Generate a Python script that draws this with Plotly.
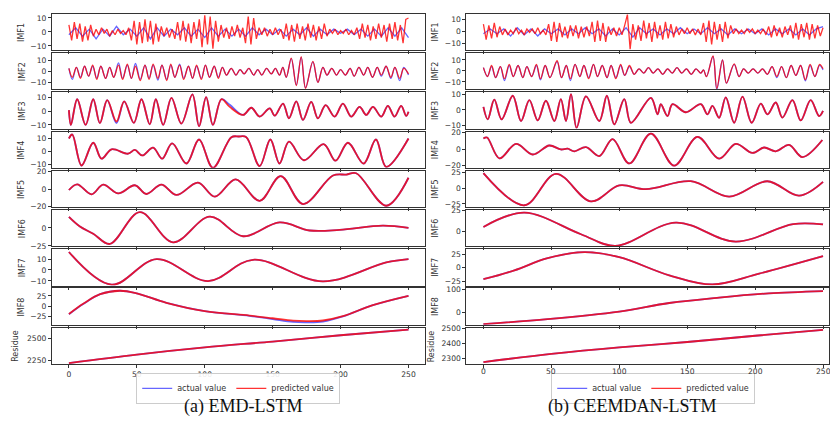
import plotly.graph_objects as go

W, H = 830, 421

# ---------------- sample index grids ----------------
t_step2 = list(range(0, 251, 2))
t_step5 = list(range(0, 251, 5))
x_ticks = [0, 50, 100, 150, 200, 250]

# ================= (a) EMD-LSTM =================
emd_imf1_pred = [5, -6, 7, -5, 6, -7, 4, -6, 5, -3,
                 2, -2, 3, -1, 2, -3, 1, -2, 2, -1,
                 1, -2, 3, -6, 8, -9, 7, -8, 9, -7,
                 8, -9, 6, -7, 4, -3, 3, -4, 2, -5,
                 7, -6, 8, -7, 6, -8, 7, -5, 9, -11,
                 12, -9, 11, -12, 8, -7, 5, -4, 3, -5,
                 4, -3, 5, -4, 3, -8, 11, -9, 10, -5,
                 3, -2, 3, -3, 2, -2, 3, -2, 2, -5,
                 6, -6, 5, -7, 6, -5, 4, -6, 6, -4,
                 5, -6, 4, -5, 6, -3, 2, -1, 2, -2,
                 1, -1, 2, -2, 1, -2, 3, -5, 6, -4,
                 5, -6, 4, -5, 6, -4, 5, -7, 6, -5,
                 7, -6, 5, -8, 9, 10]
emd_imf1_act = [-2, 3, -3, 2, -5, 2, -3, 4, -2, 2,
                -3, 3, -5, 3, -3, 2, -2, 3, -3, 2,
                -4, 3, -3, 2, -3, 2, -3, 3, -2, 2,
                -2, 2, -3, 2, -2, 3, -3, 2, -2, 2,
                -1, 2, -2, 2, -3, 2, -3, 3, -3, 3, -4]

emd_imf2_x = [0, 2.5, 5.5, 8.5, 11.5, 14.5, 17.5, 20.5, 23.5, 27,
              30, 33, 36.5, 39.5, 43, 46, 49, 52.5, 56, 59,
              62, 65.5, 68.5, 72, 75, 78, 81.5, 84.5, 88, 91,
              94, 97.5, 100.5, 103.5, 107, 110, 113, 116, 119.5, 123,
              126, 129, 132.5, 136, 139, 142, 145.5, 149, 152, 155,
              157.5, 160, 163.7, 167.4, 171, 174.2, 179.6, 183.3, 187, 190,
              193.5, 197, 200, 203.5, 207, 210, 213.5, 217, 220, 223.5,
              227, 230, 233.5, 237, 240, 243.5, 246.5, 250]
emd_imf2_pred = [3, -5, 4, -6, 5, -4, 6, -7, 5, -6,
                 4, -5, 6, -7, 7, -6, 5, -8, 6, -7,
                 7, -6, 6, -8, 7, -5, 6, -7, 5, -6,
                 6, -7, 6, -5, 5, -6, 4, -3, 3, -3,
                 2, -2, 3, -3, 2, -3, 3, -2, 3, -3,
                 4, -5, 12.4, -12.6, 13.8, -15, 9.4, -9.7, 4, -3,
                 3, -3, 2, -3, 3, -4, 4, -3, 4, -5,
                 4, -3, 5, -5, 4, -6, 3, -2]
emd_imf2_act = [3, -7, 4, -5, 5, -4, 5, -6, 5, -6,
                4, -5, 8, -6, 6, -6, 7.5, -7, 6, -6,
                6, -7.5, 6, -7, 6, -5, 7, -6, 5, -6,
                5, -6, 6, -5, 5, -5, 4, -3, 3, -3,
                2, -2, 3, -3, 2, -3, 3, -2, 3, -3,
                4, -5, 12, -12, 13, -14.5, 9, -9.5, 4, -3,
                3, -3, 2, -3, 3, -4, 4, -3, 4, -5,
                4, -4, 5, -6, 4, -8, 4, -3]

emd_imf3_x = [0, 1.5, 6.1, 12.3, 17.9, 22.8, 28.2, 35, 40.7, 47.8,
              53.4, 59.5, 64, 69.4, 75.5, 82.8, 90.9, 95.8, 101, 106,
              112.3, 118.4, 128.2, 134.3, 140.4, 147.8, 151.5, 157.6, 162, 167.4,
              172.3, 178.4, 183.3, 189, 195.6, 201.7, 207.8, 214, 218.9, 223.8,
              230, 234.8, 239.7, 244.6, 248.3, 250]
emd_imf3_pred = [0.7, -10, 8.5, -10, 8.5, -8.7, 7.8, -7.5, 7, -8.5,
                 8.5, -9.5, 8.5, -10, 9.5, -9, 12, -11, 10, -10,
                 8.5, 3, -2.8, 2.4, -4, 1.9, -3.3, 5.4, -5.2, 7,
                 -6.4, 6.6, -5.2, 4.2, -4, 5.4, -4, 3, -2.8, 3,
                 -4, 3.8, -4, 3.8, -3.5, -0.5]
emd_imf3_act = [0.7, -10, 8.5, -10, 8.5, -8.7, 7.8, -8.7, 7, -8.5,
                8.5, -9.5, 8.5, -10, 9.5, -9, 12, -11, 10, -10,
                8.5, 4.5, -2.8, 2.4, -4, 1.9, -3.3, 5.4, -5.2, 7,
                -6.4, 6.6, -5.2, 4.2, -4, 5.4, -4, 3, -2.8, 3,
                -4, 3.8, -4, 3.8, -3.5, -0.5]

emd_imf4_x = [0, 2.5, 9.3, 17.9, 24, 31.4, 43.6, 48.5, 54, 62,
              68.6, 76, 86.5, 95.8, 106, 119.6, 125, 130.6, 140.4, 148.3,
              155, 162, 173, 187.5, 196.3, 205.4, 217, 226, 233.6, 250]
emd_imf4_y = [10, 13, -10.7, 6.7, -5.5, 1.7, -1.7, 1.2, -3, 3,
              -5.5, 6.2, -9.2, 9.2, -12.5, 11, 11.5, 11, -11.2, 9.2,
              -9.2, 7.5, -6.7, 5.7, -7, 6.7, -9.2, 9.2, -11.7, 10]

emd_imf5_x = [0, 6.1, 16.7, 25.2, 36.3, 48.5, 57, 68.1, 79.2, 95,
              107.4, 122.8, 140.4, 155.9, 172.3, 194.4, 204.2, 211.5, 233.6, 250]
emd_imf5_y = [-1, 5.5, -5.9, 5.1, -4.8, 4.4, -5.5, 5.1, -6.6, 7.4,
              -8.5, 11, -13.2, 14.7, -16.9, 15.4, 16.5, 18, -18.8, 12.9]

emd_imf6_x = [0, 8.1, 17.9, 30.1, 52.2, 76.7, 103.7, 128.2, 155.1, 177.2, 199.3, 231.1, 250]
emd_imf6_y = [15.2, 1.8, -8, -22.3, 21.9, -20, 15.6, -11.6, 7.6, -3.6, -2.7, 3.1, 0]

emd_imf7_x = [0, 31.4, 64.5, 102.5, 135.5, 187, 233.6, 250]
emd_imf7_y = [16.4, -13.4, 9.9, -10.1, 9.3, -10.4, 6.9, 9.9]

emd_imf8_x = [0, 10.5, 23, 37.5, 50, 71.8, 100, 133, 150, 165, 176, 187, 201.7, 223.8, 250]
emd_imf8_pred = [-19.5, 5.5, 29, 37.5, 31, 7.8, -12.5, -23.4, -30, -36, -37, -35.5, -25, 2.3, 25]
emd_imf8_act = [-20, 5, 29, 37.5, 31, 7.8, -12.5, -24, -32, -39, -40, -38, -25.5, 2, 25]

emd_res_x = [0, 50, 100, 150, 200, 250]
emd_res_y = [2220, 2316, 2397, 2462, 2533, 2596]

# ================= (b) CEEMDAN-LSTM =================
ceem_imf1_pred = [6, -7, 5, -6, 7, -5, 4, -3, 2, -3,
                  1, -2, 3, -2, 1, -3, 2, -1, 2, -2,
                  3, -2, 1, -3, 6, -8, 8, -9, 7, -5,
                  4, -6, 5, -4, 5, -6, 4, -5, 4, -4,
                  8, -9, 9, -8, 7, -9, 4, -3, 3, -4,
                  3, -3, 5, 14, -15, 6, -7, 5, -8, 9,
                  -6, 7, -9, 8, -6, 5, -7, 8, -6, 6,
                  -5, 4, -3, 2, -2, 3, -2, 2, -3, 2,
                  -3, 7, -9, 9, -11, 8, -7, 6, -9, 8,
                  -6, 5, -2, 2, -2, 1, -2, 2, -1, 2,
                  -2, 1, -2, 2, -3, 4, -5, 5, -4, 3,
                  -5, 4, -3, 5, -6, 7, -7, 6, -5, 7,
                  -7, 6, -6, 5, -4, 3]
ceem_imf1_act = [-2, 2, -2, 2, -4, 3, -3, 2, -4, 2,
                 -2, 2, -3, 2, -2, 3, -2, 2, -4, 2,
                 -3, 3, -5, 3, -2, 2, -3, 2, -2, 3,
                 -2, 2, -2, 3, -2, 2, -3, 2, -2, 2,
                 -2, 2, -3, 2, -2, 2, -3, 2, -3, 2, 4]

ceem_imf2_x = [0, 3, 6, 9, 12.5, 15.5, 19, 22, 25.5, 29,
               32, 35.5, 39, 42, 45.5, 49, 54.2, 57.5, 61, 64,
               67.5, 71, 74, 77.5, 81, 84, 87.5, 91, 94, 97.5,
               101, 104, 107.5, 111, 114.5, 118, 121.5, 125, 128.5, 132,
               135.5, 139, 142.5, 146, 149.5, 153, 156.5, 160, 162, 164.2,
               169, 171.8, 176, 178.9, 184.6, 188.2, 191.5, 195, 198.5, 202,
               205.5, 209, 212.5, 216, 219.5, 223, 226.5, 230, 233.5, 237,
               240.5, 244, 247.5, 250]
ceem_imf2_pred = [3, -5, 5, -6, 4, -7, 6, -5, 5, -6,
                  4, -5, 6, -7, 5, -6, 9.3, -6, 5, -7,
                  6, -5, 5, -7, 6, -5, 5, -6, 5, -7,
                  6, -4, 5, -3, 2, -2, 3, -2, 2, -3,
                  2, -2, 3, -2, 2, -3, 2, -2, 1, -5.2,
                  13.6, -16, 10.1, -11, 6.4, -5.2, 2, -2, 2, -2,
                  2, -3, 4, -5, 4, -6, 5, -4, 5, -8,
                  6, -5, 6, 2]
ceem_imf2_act = [3, -5, 4, -6, 4, -8.7, 5, -5, 5, -6,
                 4, -5, 5, -8, 5, -6, 8.5, -6, 5, -8.7,
                 6, -5, 5, -6, 6, -5, 5, -6, 5, -6,
                 5, -4, 4, -3, 2, -2, 3, -2, 2, -3,
                 2, -2, 3, -2, 2, -3, 2, -2, 1, -5,
                 13, -17, 10, -11, 6, -5, 2, -2, 2, -2,
                 2, -3, 4, -6, 4, -6, 5, -4, 5, -9,
                 5, -5, 5, 1]

ceem_imf3_x = [0, 3.2, 8, 13.4, 21.6, 27.7, 33.8, 40, 46, 52.2,
               57, 60.8, 64.5, 68.6, 75.5, 85.3, 90.9, 96.3, 103.7, 108.6,
               123.3, 128.2, 130.6, 135.5, 139.2, 149, 160, 164.9, 168.6, 173.5,
               178.4, 184.6, 190.7, 197.5, 204.2, 209.1, 215.2, 220.1, 227.5, 233.6,
               240.9, 247.1, 250]
ceem_imf3_y = [1.9, -6, 6.5, -6, 9, -7.1, 6.2, -6.7, 5.8, -7.1,
               6.9, -7.1, 10, -11.4, 8.6, -7.1, 9, -9.2, 6.9, -8.2,
               7.7, -2.8, 3.6, -3.9, 3.6, -1.5, 3.6, -2.8, 2.6, -5,
               8, -8.2, 8.4, -8.2, 4, -2.8, 4.7, -4.9, 6.2, -6.7,
               6.2, -3.9, -0.6]

ceem_imf4_x = [0, 2.7, 11.8, 24, 36.3, 48.5, 57, 62, 66.9, 75.5,
               85.3, 95.1, 107.4, 123.3, 140.4, 157.6, 173.5, 185.8, 198, 206.6,
               215.2, 225, 234.8, 249.5]
ceem_imf4_y = [12.8, 14, -11.2, 6.2, -6.6, 4.3, -0.5, 0.5, -2.7, 2.3,
               -8.5, 12, -17.4, 18.6, -20, 14.7, -11.6, 6.2, -4.7, 1.9,
               -2.7, 5, -9.7, 10.9]

ceem_imf5_x = [0, 30.1, 53.4, 79.2, 100, 119.6, 152.7, 180.9, 209, 232.4, 250]
ceem_imf5_y = [24.2, -27.3, 23.2, -21.1, 4.5, -1.5, 11.3, -13.4, 11.3, -11.9, 10.3]

ceem_imf6_x = [0, 30.1, 71.8, 97, 141.7, 185.8, 228, 250]
ceem_imf6_y = [5.5, 22.3, -3.1, -16.8, 10.5, -11.7, 8.8, 8.4]

ceem_imf7_x = [0, 22.8, 47.3, 74.3, 100, 136.8, 168.6, 203, 250]
ceem_imf7_y = [-21.3, -4.9, 17.7, 28.7, 19.5, -14, -31, -11, 21.3]

ceem_imf8_x = [0, 47.3, 100, 136.8, 173.5, 210, 250]
ceem_imf8_y = [-49, -28, 5, 41.7, 65, 83, 93]

ceem_res_x = [0, 50, 100, 150, 200, 250]
ceem_res_y = [2275, 2330, 2374, 2410, 2452, 2491]

row_labels = ["IMF1", "IMF2", "IMF3", "IMF4", "IMF5", "IMF6", "IMF7", "IMF8", "Residue"]

# (x_act, y_act, x_pred, y_pred, line shape)
emd_rows = [
    (t_step5, emd_imf1_act, t_step2, emd_imf1_pred, "linear"),
    (emd_imf2_x, emd_imf2_act, emd_imf2_x, emd_imf2_pred, "spline"),
    (emd_imf3_x, emd_imf3_act, emd_imf3_x, emd_imf3_pred, "spline"),
    (emd_imf4_x, emd_imf4_y, emd_imf4_x, emd_imf4_y, "spline"),
    (emd_imf5_x, emd_imf5_y, emd_imf5_x, emd_imf5_y, "spline"),
    (emd_imf6_x, emd_imf6_y, emd_imf6_x, emd_imf6_y, "spline"),
    (emd_imf7_x, emd_imf7_y, emd_imf7_x, emd_imf7_y, "spline"),
    (emd_imf8_x, emd_imf8_act, emd_imf8_x, emd_imf8_pred, "spline"),
    (emd_res_x, emd_res_y, emd_res_x, emd_res_y, "spline"),
]
ceem_rows = [
    (t_step5, ceem_imf1_act, t_step2, ceem_imf1_pred, "linear"),
    (ceem_imf2_x, ceem_imf2_act, ceem_imf2_x, ceem_imf2_pred, "spline"),
    (ceem_imf3_x, ceem_imf3_y, ceem_imf3_x, ceem_imf3_y, "spline"),
    (ceem_imf4_x, ceem_imf4_y, ceem_imf4_x, ceem_imf4_y, "spline"),
    (ceem_imf5_x, ceem_imf5_y, ceem_imf5_x, ceem_imf5_y, "spline"),
    (ceem_imf6_x, ceem_imf6_y, ceem_imf6_x, ceem_imf6_y, "spline"),
    (ceem_imf7_x, ceem_imf7_y, ceem_imf7_x, ceem_imf7_y, "spline"),
    (ceem_imf8_x, ceem_imf8_y, ceem_imf8_x, ceem_imf8_y, "spline"),
    (ceem_res_x, ceem_res_y, ceem_res_x, ceem_res_y, "spline"),
]

# y-axis ranges and ticks
emd_yranges = [[-13, 13], [-16, 17], [-12.6, 13.5], [-12.5, 15.3], [-20.3, 20.8],
               [-25.6, 24.9], [-14.2, 18.9], [-46, 43], [2209, 2618]]
emd_yticks = [[-10, 0, 10], [-10, 0, 10], [-10, 0, 10], [-10, 0, 10], [-20, 0, 20],
              [-25, 0], [-10, 0, 10], [-25, 0, 25], [2250, 2500]]
ceem_yranges = [[-15.8, 14.7], [-16.7, 16.3], [-11.9, 11.2], [-22.7, 21.2], [-30.2, 28.1],
                [-17.3, 25.4], [-33, 34.2], [-52, 104], [2262, 2506]]
ceem_yticks = [[-10, 0, 10], [-10, 0, 10], [-10, 0, 10], [-20, 0, 20], [-25, 0, 25],
               [0, 25], [-25, 0, 25], [0, 100], [2300, 2400, 2500]]

BLUE = "rgba(0,0,255,0.6)"
RED = "rgba(255,0,0,0.8)"
FRAME = "#333333"
TICKFONT = dict(family="DejaVu Sans", size=7.6, color="#333333")

fig = go.Figure()
layout = dict(width=W, height=H, margin=dict(l=0, r=0, t=0, b=0),
              paper_bgcolor="white", plot_bgcolor="white", showlegend=True)

panels = [
    dict(rows=emd_rows, yr=emd_yranges, yt=emd_yticks, xdom=[52 / W, 426 / W],
         xr=[-12.5, 262.5], legend="legend", title_x=[22, 16]),
    dict(rows=ceem_rows, yr=ceem_yranges, yt=ceem_yticks, xdom=[467 / W, 1.0],
         xr=[-12.5, 254.4], legend="legend2", title_x=[436, 432]),
]

annotations = []
n = 0
for pi, p in enumerate(panels):
    for i, (xa, ya, xp, yp, shape) in enumerate(p["rows"]):
        n += 1
        xn = "x" if n == 1 else f"x{n}"
        yn = "y" if n == 1 else f"y{n}"
        top = 10 + 40 * i
        bot = 47 + 40 * i
        lw = 1.3 if i < 2 else 1.8
        fig.add_trace(go.Scatter(x=xa, y=ya, mode="lines", name="actual value",
                                 line=dict(color=BLUE, width=lw, shape=shape),
                                 xaxis=xn, yaxis=yn, legend=p["legend"],
                                 showlegend=(i == 0), hoverinfo="skip"))
        fig.add_trace(go.Scatter(x=xp, y=yp, mode="lines", name="predicted value",
                                 line=dict(color=RED, width=lw, shape=shape),
                                 xaxis=xn, yaxis=yn, legend=p["legend"],
                                 showlegend=(i == 0), hoverinfo="skip"))
        xkey = "xaxis" if n == 1 else f"xaxis{n}"
        ykey = "yaxis" if n == 1 else f"yaxis{n}"
        show_x_labels = (i == 8) and (pi == 0)
        layout[xkey] = dict(domain=p["xdom"], range=p["xr"], anchor=yn,
                            tickvals=x_ticks, ticks="outside", ticklen=3, tickwidth=1,
                            tickcolor=FRAME, showticklabels=show_x_labels, tickfont=TICKFONT,
                            showline=True, mirror=True, linecolor=FRAME, linewidth=1.2,
                            showgrid=False, zeroline=False)
        layout[ykey] = dict(domain=[1 - bot / H, 1 - top / H], range=p["yr"][i], anchor=xn,
                            tickvals=p["yt"][i], ticks="outside", ticklen=3, tickwidth=1,
                            tickcolor=FRAME, tickfont=TICKFONT,
                            showline=True, mirror=True, linecolor=FRAME, linewidth=1.2,
                            showgrid=False, zeroline=False)
        tx = p["title_x"][1] if i == 8 else p["title_x"][0]
        annotations.append(dict(text=row_labels[i], x=tx / W, y=1 - (top + bot) / 2 / H,
                                xref="paper", yref="paper", showarrow=False, textangle=-90,
                                xanchor="center", yanchor="middle",
                                font=dict(family="DejaVu Sans", size=8, color="#333333")))

# x tick labels of the right panel (its right edge is cut by the picture border)
for v in x_ticks:
    annotations.append(dict(text=str(v), x=v, y=1 - 375 / H, xref="x18", yref="paper",
                            showarrow=False, xanchor="center", yanchor="middle",
                            font=TICKFONT))

annotations.append(dict(text="(a) EMD-LSTM", x=243.5 / W, y=1 - 410 / H, xref="paper",
                        yref="paper", showarrow=False, xanchor="center", yanchor="middle",
                        font=dict(family="Liberation Serif", size=18, color="#111111")))
annotations.append(dict(text="(b) CEEMDAN-LSTM", x=633 / W, y=1 - 410 / H, xref="paper",
                        yref="paper", showarrow=False, xanchor="center", yanchor="middle",
                        font=dict(family="Liberation Serif", size=18, color="#111111")))
layout["annotations"] = annotations

leg_common = dict(orientation="h", xanchor="center", yanchor="top", y=1 - 376 / H,
                  bgcolor="rgba(255,255,255,0.9)", bordercolor="#cccccc", borderwidth=1,
                  font=dict(family="DejaVu Sans", size=8, color="#333333"),
                  itemwidth=30, tracegroupgap=0)
layout["legend"] = dict(x=238.5 / W, **leg_common)
layout["legend2"] = dict(x=654 / W, **leg_common)

fig.update_layout(**layout)
fig.write_html("out.html", config={"displayModeBar": False},
               post_script="document.body.style.margin='0px';")
